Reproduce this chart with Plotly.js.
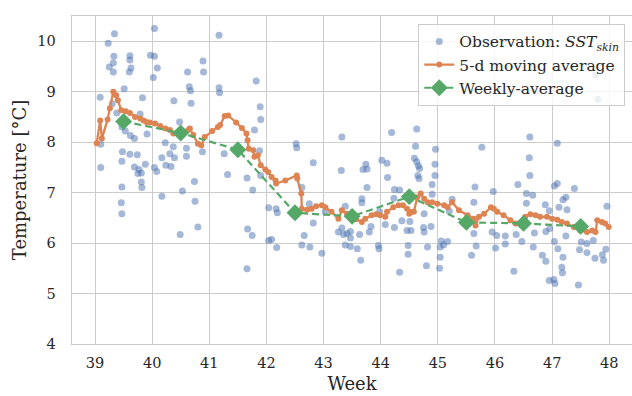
<!DOCTYPE html>
<html>
<head>
<meta charset="utf-8">
<script src="https://cdn.plot.ly/plotly-3.0.1.min.js"></script>
<style>html,body{margin:0;padding:0;background:#fff}#chart{width:632px;height:396px}</style>
</head>
<body>
<div id="chart"></div>
<script>
// Observations (week, SST skin)
const obsWeek = [39.34,40.04,39.23,39.33,39.61,39.97,40.04,39.32,39.25,39.61,39.63,39.60,39.32,40.02,40.62,39.51,39.09,39.83,40.38,40.65,40.67,40.68,39.30,39.38,39.79,40.09,40.48,39.47,39.53,39.62,39.69,39.91,39.10,40.23,40.37,40.60,40.60,39.48,39.47,39.61,39.74,40.31,40.39,40.17,39.10,39.69,39.77,39.81,39.75,39.88,40.04,40.08,40.24,40.33,39.81,39.82,39.47,40.17,40.53,39.46,39.47,40.49,40.89,40.90,41.17,41.17,41.18,40.88,41.26,41.32,40.74,40.75,40.80,
41.82,41.89,41.90,41.79,41.88,41.66,41.76,41.90,41.67,41.75,41.66,42.04,42.17,42.19,42.04,42.09,42.18,
42.52,42.53,42.82,43.32,43.31,43.69,43.74,43.76,44.19,44.02,44.11,44.12,43.76,42.62,43.67,43.67,44.23,42.75,43.38,43.03,42.82,43.26,43.32,43.35,43.41,43.47,43.47,43.63,43.80,43.83,44.08,44.24,42.66,42.62,42.76,43.38,43.47,43.59,43.96,43.97,42.97,43.65,
44.33,44.37,44.48,44.48,44.46,44.53,44.51,44.80,44.82,44.75,44.76,44.88,44.76,44.90,44.90,45.04,45.03,44.66,44.68,44.95,44.59,44.63,43.98,44.63,44.61,44.96,44.65,44.67,44.95,45.77,44.24,44.33,45.65,45.97,45.63,45.25,45.95,46.01,45.63,45.67,45.59,45.06,45.10,45.17,45.04,45.20,
46.60,46.61,46.61,47.09,47.76,47.80,46.40,47.09,47.04,47.39,46.55,46.66,47.24,47.19,46.88,46.95,47.12,47.26,47.96,46.55,46.03,46.18,46.37,46.69,46.89,46.96,47.24,47.51,46.18,46.47,46.67,47.04,47.10,47.48,47.61,47.72,47.94,47.88,47.75,47.90,47.61,46.83,46.89,47.19,47.17,47.18,46.33,46.95,47.03,47.05,47.46];
const obsTemp = [10.15,10.25,9.96,9.70,9.71,9.72,9.70,9.57,9.49,9.63,9.47,9.39,9.39,9.28,9.39,9.06,8.89,8.88,8.82,9.10,9.02,8.77,8.76,8.58,8.56,9.47,8.40,8.30,8.22,8.13,8.07,8.16,7.96,7.99,7.91,7.88,7.72,7.81,7.62,7.76,7.75,7.77,7.69,7.69,7.50,7.51,7.46,7.39,7.38,7.56,7.50,7.42,7.54,7.52,7.21,7.10,7.11,6.93,7.03,6.80,6.58,6.17,9.61,9.39,10.12,9.08,8.98,7.81,7.77,7.36,7.22,6.83,6.32,
9.21,8.70,8.45,8.24,7.83,7.29,7.05,7.34,6.28,6.15,5.49,6.70,6.68,6.60,6.05,6.07,5.91,
7.97,7.89,7.59,8.10,7.44,7.46,7.56,7.47,8.19,7.64,7.58,7.30,7.10,7.10,6.88,6.80,6.89,6.78,6.73,6.62,6.40,6.22,6.30,6.17,6.19,6.23,6.10,6.17,6.22,6.33,6.37,6.31,6.15,5.96,5.92,5.96,5.93,5.89,5.95,5.89,5.80,5.66,
5.42,6.44,5.95,5.78,6.25,6.25,6.43,5.55,5.92,6.31,6.22,6.33,6.58,7.16,6.97,5.72,5.50,7.53,7.48,7.56,7.68,7.61,6.62,8.26,7.92,7.86,7.34,7.28,7.34,7.90,7.06,7.05,7.11,7.02,6.81,6.87,6.22,5.90,6.19,5.94,5.76,6.04,5.96,6.03,5.92,6.63,
7.69,7.34,8.10,7.98,9.33,8.85,7.16,7.18,7.13,7.08,6.98,6.95,6.91,6.86,6.76,6.64,6.71,6.66,6.73,6.79,6.15,6.14,6.17,6.20,6.23,6.29,6.14,6.02,5.98,6.03,5.92,6.03,5.89,5.87,5.81,6.05,5.88,5.77,5.70,5.66,5.99,5.76,5.64,5.72,5.52,5.41,5.44,5.26,5.28,5.20,5.17];

// 5-day moving average
const maWeek = [39.03,39.09,39.12,39.22,39.26,39.32,39.37,39.40,39.46,39.54,39.61,39.70,39.79,39.85,39.90,39.96,40.05,40.14,40.23,40.31,40.37,40.45,40.55,40.63,40.66,40.72,40.80,40.86,40.92,41.05,41.15,41.19,41.27,41.33,41.47,41.57,41.65,41.67,41.69,41.77,41.79,41.85,41.90,41.98,42.03,42.09,42.16,42.17,42.33,42.53,42.54,42.61,42.62,42.71,42.79,42.87,42.97,43.03,43.14,43.26,43.32,43.41,43.49,43.57,43.67,43.73,43.84,43.92,43.99,44.08,44.11,44.22,44.31,44.39,44.46,44.50,44.54,44.58,44.64,44.70,44.76,44.82,44.90,44.99,45.11,45.17,45.25,45.37,45.52,45.63,45.66,45.72,45.81,45.93,45.98,46.04,46.15,46.27,46.36,46.47,46.53,46.62,46.71,46.79,46.91,47.00,47.09,47.17,47.26,47.38,47.49,47.61,47.70,47.76,47.79,47.87,47.93,47.99];
const maTemp = [7.98,8.43,8.07,8.45,8.67,9.00,8.93,8.83,8.63,8.61,8.58,8.50,8.47,8.43,8.40,8.39,8.37,8.32,8.27,8.24,8.17,8.17,8.17,8.24,8.27,8.14,7.97,7.94,8.10,8.22,8.30,8.34,8.52,8.53,8.39,8.28,8.17,8.04,7.87,7.84,7.71,7.74,7.54,7.46,7.41,7.31,7.24,7.18,7.24,7.34,7.28,6.98,6.68,6.66,6.68,6.73,6.75,6.71,6.62,6.48,6.65,6.58,6.52,6.47,6.42,6.48,6.55,6.57,6.55,6.52,6.62,6.71,6.75,6.75,6.68,6.58,6.62,6.62,6.91,6.98,6.88,6.81,6.81,6.78,6.75,6.71,6.81,6.65,6.55,6.48,6.35,6.52,6.58,6.71,6.68,6.62,6.55,6.45,6.39,6.35,6.52,6.57,6.55,6.52,6.52,6.48,6.46,6.42,6.39,6.32,6.25,6.22,6.25,6.22,6.45,6.42,6.39,6.32];

// Weekly averages
const wkWeek = [39.5,40.5,41.5,42.5,43.5,44.5,45.5,46.5,47.5];
const wkTemp = [8.41,8.18,7.85,6.60,6.53,6.92,6.41,6.39,6.33];

const xTicks = [39,40,41,42,43,44,45,46,47,48];
const yTicks = [4,5,6,7,8,9,10];

const FONT = 'DejaVu Serif, serif';
const traces = [
  {x: obsWeek, y: obsTemp, type: 'scatter', mode: 'markers',
   name: 'Observation: <i>SST</i><sub><i>skin</i></sub>',
   marker: {color: '#4C72B0', size: 7, opacity: 0.5, line: {width: 0}}},
  {x: maWeek, y: maTemp, type: 'scatter', mode: 'lines+markers',
   name: '5-d moving average',
   line: {color: '#DD8452', width: 2.3},
   marker: {color: '#DD8452', size: 6}},
  {x: wkWeek, y: wkTemp, type: 'scatter', mode: 'lines+markers',
   name: 'Weekly-average',
   line: {color: '#55A868', width: 2.2, dash: '7px,4px'},
   marker: {color: '#55A868', size: 13, symbol: 'diamond'}}
];

const layout = {
  width: 632, height: 396,
  margin: {l: 72, r: 0, t: 16, b: 52, pad: 0},
  paper_bgcolor: '#fff', plot_bgcolor: '#fff',
  font: {family: FONT, size: 15, color: '#262626'},
  showlegend: true,
  legend: {x: 0.988, y: 0.976, xanchor: 'right', yanchor: 'top',
           bgcolor: 'rgba(255,255,255,0.8)', bordercolor: '#cccccc', borderwidth: 1,
           tracegroupgap: 0,
           font: {family: FONT, size: 15.5, color: '#262626'}},
  xaxis: {range: [38.597, 48.398], tickvals: xTicks, ticktext: xTicks.map(String),
          showgrid: true, gridcolor: '#cccccc', gridwidth: 1, zeroline: false,
          showline: true, linecolor: '#cccccc', linewidth: 1.3, mirror: true,
          ticks: 'outside', ticklen: 5, tickcolor: 'rgba(0,0,0,0)',
          tickfont: {family: FONT, size: 14.5, color: '#262626'},
          title: {text: 'Week', font: {family: FONT, size: 18, color: '#262626'}, standoff: 7}},
  yaxis: {range: [4, 10.5], tickvals: yTicks, ticktext: yTicks.map(String),
          showgrid: true, gridcolor: '#cccccc', gridwidth: 1, zeroline: false,
          showline: true, linecolor: '#cccccc', linewidth: 1.3, mirror: false,
          ticks: 'outside', ticklen: 12, tickcolor: 'rgba(0,0,0,0)',
          tickfont: {family: FONT, size: 14.5, color: '#262626'},
          title: {text: 'Temperature [°C]', font: {family: FONT, size: 18, color: '#262626'}, standoff: 6}}
};

Plotly.newPlot('chart', traces, layout, {displayModeBar: false, staticPlot: true});
</script>
</body>
</html>
